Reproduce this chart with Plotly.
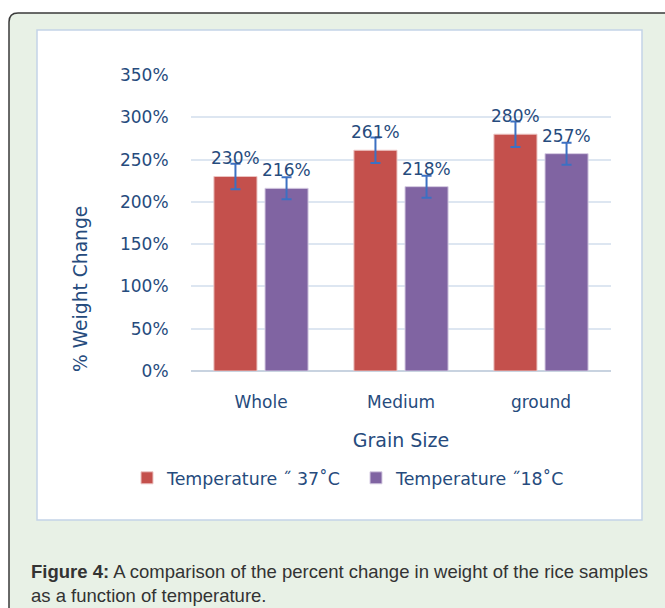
import plotly.graph_objects as go

categories = ["Whole", "Medium", "ground"]
temp37 = [230, 261, 280]
temp18 = [216, 218, 257]
err37 = [15, 15, 15]
err18 = [13, 13, 13]
y_ticks = [0, 50, 100, 150, 200, 250, 300, 350]
y_ticklabels = [f"{v}%" for v in y_ticks]
series_names = ["Temperature \u02dd 37\u02daC", "Temperature \u02dd18\u02daC"]

W, H = 665, 608
L, R, T, B = 191, 54, 75, 237
PW, PH = W - L - R, H - T - B

def px(x):
    return (x - L) / PW

def py(y):
    return (H - B - y) / PH

TXT = "#264b7d"
FONT = "DejaVu Sans"

fig = go.Figure()
fig.add_trace(go.Bar(
    x=categories, y=temp37, name=series_names[0],
    marker=dict(color="#c4504c", line=dict(color="#ecc4c2", width=1)),
    error_y=dict(type="data", array=err37, color="#3c70c2", thickness=2, width=5),
))
fig.add_trace(go.Bar(
    x=categories, y=temp18, name=series_names[1],
    marker=dict(color="#8064a2", line=dict(color="#d5cbe2", width=1)),
    error_y=dict(type="data", array=err18, color="#3c70c2", thickness=2, width=5),
))

annotations = []
for vals, shift in ((temp37, -26), (temp18, 25)):
    for c, v in zip(categories, vals):
        annotations.append(dict(
            x=c, y=v, xref="x", yref="y", text=f"{v}%", showarrow=False,
            xshift=shift, yshift=6, yanchor="bottom",
            font=dict(family=FONT, size=17, color=TXT)))

# y-axis title (placed like the original, below the plot's vertical centre)
annotations.append(dict(
    x=px(80), y=py(289), xref="paper", yref="paper", xanchor="center", yanchor="middle",
    showarrow=False, textangle=-90, text="% Weight Change",
    font=dict(family=FONT, size=18.7, color=TXT)))

annotations.append(dict(
    x=px(29), y=py(571), xref="paper", yref="paper", xanchor="left", yanchor="middle",
    showarrow=False, align="left",
    text="<b>Figure 4:</b> A comparison of the percent change in weight of the rice samples",
    font=dict(family="Liberation Sans", size=18.5, color="#333333")))
annotations.append(dict(
    x=px(29), y=py(595), xref="paper", yref="paper", xanchor="left", yanchor="middle",
    showarrow=False, align="left",
    text="as a function of temperature.",
    font=dict(family="Liberation Sans", size=18.5, color="#333333")))

r = 9
x0, y0 = 9, 13
outer_path = (f"M {px(x0)} {py(700)} L {px(x0)} {py(y0 + r)} "
              f"Q {px(x0)} {py(y0)} {px(x0 + r)} {py(y0)} "
              f"L {px(720)} {py(y0)} L {px(720)} {py(700)} Z")

shapes = [
    dict(type="path", path=outer_path, xref="paper", yref="paper",
         fillcolor="#e8f1e6", line=dict(color="#3a3a3a", width=1.5), layer="below"),
    dict(type="rect", xref="paper", yref="paper",
         x0=px(37), x1=px(642), y0=py(30), y1=py(520),
         fillcolor="#ffffff", line=dict(color="#c3d4e8", width=1.5), layer="below"),
]

fig.update_layout(
    width=W, height=H,
    margin=dict(l=L, r=R, t=T, b=B, pad=0),
    paper_bgcolor="#ffffff", plot_bgcolor="rgba(0,0,0,0)",
    barmode="group", bargap=0.27, bargroupgap=0.157,
    font=dict(family=FONT, color=TXT),
    showlegend=True,
    legend=dict(orientation="h", x=px(127), xanchor="left", y=py(478), yanchor="middle",
                font=dict(family=FONT, size=17.4, color=TXT), bgcolor="rgba(0,0,0,0)",
                traceorder="normal", entrywidth=184, entrywidthmode="pixels"),
    annotations=annotations,
    shapes=shapes,
    xaxis=dict(
        title=dict(text="Grain Size", font=dict(family=FONT, size=19, color=TXT), standoff=22),
        tickfont=dict(family=FONT, size=17, color=TXT),
        ticks="outside", ticklen=16, tickcolor="rgba(0,0,0,0)",
        showline=False, showgrid=False,
    ),
    yaxis=dict(
        range=[0, 350], tickvals=y_ticks, ticktext=y_ticklabels,
        tickfont=dict(family=FONT, size=17, color=TXT),
        ticks="outside", ticklen=18, tickcolor="rgba(0,0,0,0)",
        showgrid=True, gridcolor="#dde6f1", gridwidth=1.5,
        zeroline=True, zerolinecolor="#c8d3e0", zerolinewidth=1.5,
        showline=False,
    ),
)

fig.write_html("out.html", config={"displayModeBar": False},
               post_script="document.body.style.margin='0';")
